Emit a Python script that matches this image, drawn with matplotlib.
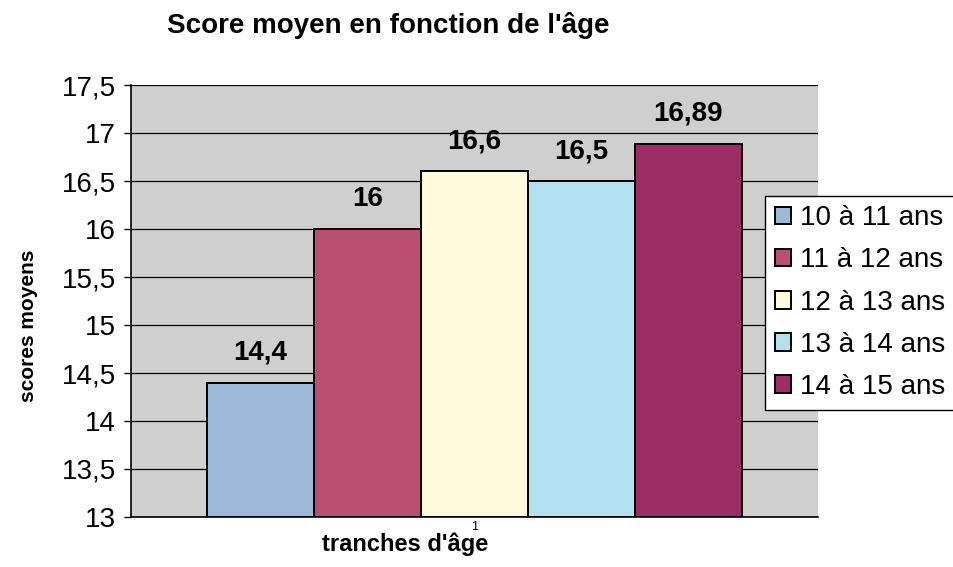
import numpy as np
import matplotlib
matplotlib.use('Agg')
import matplotlib.pyplot as plt

plt.rcParams['font.family'] = ['Liberation Sans', 'DejaVu Sans']

categories = ['10 à 11 ans', '11 à 12 ans', '12 à 13 ans', '13 à 14 ans', '14 à 15 ans']
scores = [14.4, 16.0, 16.6, 16.5, 16.89]
value_labels = ['14,4', '16', '16,6', '16,5', '16,89']
colors = ['#9cb9da', '#b9506f', '#fdfbdc', '#b2e0ee', '#9b2d65']
yticks = [13, 13.5, 14, 14.5, 15, 15.5, 16, 16.5, 17, 17.5]
ytick_labels = ['13', '13,5', '14', '14,5', '15', '15,5', '16', '16,5', '17', '17,5']

fig = plt.figure(figsize=(9.54, 5.67), dpi=100)
ax = fig.add_axes([0.1373, 0.0882, 0.7201, 0.7618])
ax.set_facecolor('#cfcfcf')

w = 0.15
offsets = (np.arange(len(scores)) - 2) * w
for i in range(len(scores)):
    ax.bar(offsets[i], scores[i] - 13, bottom=13, width=w, color=colors[i],
           edgecolor='black', linewidth=1.4, label=categories[i], zorder=3)
    ax.annotate(value_labels[i], (offsets[i], scores[i]), xytext=(0, 12),
                textcoords='offset points', ha='center', va='bottom',
                fontsize=20, fontweight='bold', zorder=4)

ax.set_xlim(-0.4815, 0.4815)
ax.set_ylim(13, 17.5)
ax.set_yticks(yticks)
ax.set_yticklabels(ytick_labels, fontsize=20)
ax.set_xticks([0])
ax.set_xticklabels(['1'], fontsize=9)
ax.tick_params(axis='x', length=0, pad=3)
ax.tick_params(axis='y', direction='out', length=5, width=1, pad=6)
ax.yaxis.grid(True, color='black', linewidth=0.9, zorder=1)
ax.set_axisbelow(True)
for s in ['top', 'right']:
    ax.spines[s].set_visible(False)
ax.spines['left'].set_linewidth(1.2)
ax.spines['bottom'].set_linewidth(1.2)

fig.text(0.407, 0.955, "Score moyen en fonction de l'âge", ha='center', va='center',
         fontsize=20, fontweight='bold')
fig.text(0.425, 0.04, "tranches d'âge", ha='center', va='center',
         fontsize=17, fontweight='bold')
fig.text(0.03, 0.425, 'scores moyens', ha='center', va='center', rotation=90,
         fontsize=15, fontweight='bold')

leg = fig.legend(loc='upper left', bbox_to_anchor=(0.802, 0.655), fontsize=20,
                 frameon=True, fancybox=False, edgecolor='black', framealpha=1,
                 handlelength=0.6, handleheight=0.6, handletextpad=0.3,
                 labelspacing=0.58, borderpad=0.35, borderaxespad=0)
leg.get_frame().set_linewidth(1.0)

plt.savefig('out.png', dpi=100)
